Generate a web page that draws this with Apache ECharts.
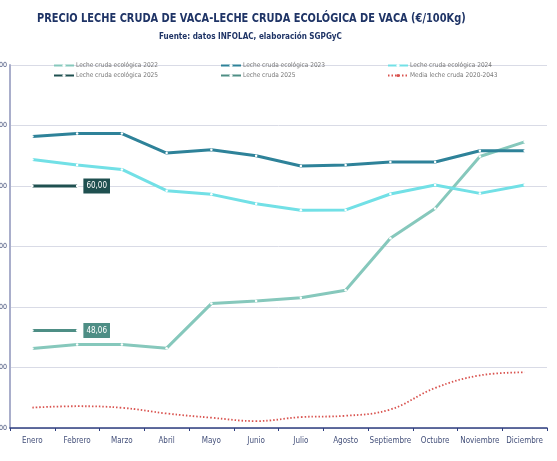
<!DOCTYPE html>
<html>
<head>
<meta charset="utf-8">
<script src="https://cdn.jsdelivr.net/npm/echarts@6/dist/echarts.min.js"></script>
<style>
  html, body { margin: 0; padding: 0; background: #fff; }
  #chart { width: 557px; height: 461px; }
</style>
</head>
<body>
<div id="chart"></div>
<script>
var FONT = '"Liberation Sans Narrow", "DejaVu Sans Condensed", "Liberation Sans", sans-serif';

var meses = ["Enero", "Febrero", "Marzo", "Abril", "Mayo", "Junio", "Julio", "Agosto", "Septiembre", "Octubre", "Noviembre", "Diciembre"];

var eco2022 = [46.57, 46.90, 46.90, 46.60, 50.28, 50.49, 50.76, 51.38, 55.68, 58.15, 62.44, 63.65];
var eco2023 = [64.09, 64.33, 64.33, 62.72, 62.99, 62.50, 61.65, 61.73, 61.98, 61.98, 62.91, 62.91];
var eco2024 = [62.19, 61.73, 61.37, 59.61, 59.31, 58.54, 57.99, 58.02, 59.34, 60.08, 59.39, 60.08];
var eco2025 = [60.00, 60.00];
var cruda2025 = [48.06, 48.06];
var media = [41.69, 41.80, 41.67, 41.20, 40.85, 40.57, 40.90, 41.01, 41.53, 43.31, 44.35, 44.60];

function fmt(v) { return v.toFixed(2).replace(".", ","); }

var chart = echarts.init(document.getElementById("chart"));

function lineSerie(name, data, color) {
  return {
    name: name,
    type: "line",
    data: data,
    symbol: "circle",
    symbolSize: 2.5,
    itemStyle: { color: "#fff", borderWidth: 0 },
    lineStyle: { color: color, width: 3 },
    emphasis: { disabled: true },
    z: 3
  };
}

// la etiqueta sólo va en el último punto (Febrero)
function withLabel(data, bg) {
  return data.map(function (v, i) {
    if (i !== data.length - 1) return v;
    return {
      value: v,
      label: {
        show: true,
        position: "right",
        distance: 5,
        formatter: function (p) { return fmt(p.value); },
        color: "#fff",
        fontFamily: FONT,
        fontSize: 8,
        backgroundColor: bg,
        padding: [4, 3, 3, 3]
      }
    };
  });
}

var legendBase = {
  orient: "vertical",
  top: 57,
  itemWidth: 20,
  itemHeight: 4,
  itemGap: 3,
  textStyle: { fontFamily: FONT, fontSize: 6.5, color: "#777", padding: [0, 0, 0, -3] }
};

var option = {
  animation: false,
  textStyle: { fontFamily: FONT },
  graphic: [
    {
      type: "text", x: 37, y: 12, scaleX: 0.84,
      style: {
        text: "PRECIO LECHE CRUDA DE VACA-LECHE CRUDA ECOLÓGICA DE VACA (€/100Kg)",
        fontFamily: FONT, fontSize: 13, fontWeight: "bold", fill: "#1F3466"
      }
    },
    {
      type: "text", x: 159, y: 32, scaleX: 0.85,
      style: {
        text: "Fuente: datos INFOLAC, elaboración SGPGyC",
        fontFamily: FONT, fontSize: 9.5, fontWeight: "bold", fill: "#1F3466"
      }
    }
  ],
  legend: [
    Object.assign({}, legendBase, { left: 48, data: ["Leche cruda ecológica 2022", "Leche cruda ecológica 2025"] }),
    Object.assign({}, legendBase, { left: 215, data: ["Leche cruda ecológica 2023", "Leche cruda 2025"] }),
    Object.assign({}, legendBase, { left: 382, data: ["Leche cruda ecológica 2024", "Media leche cruda 2020-2043"] })
  ],
  grid: { left: 10, right: 10, top: 65, bottom: 33, containLabel: false, outerBoundsMode: "none" },
  xAxis: {
    type: "category",
    data: meses,
    boundaryGap: true,
    axisLine: { lineStyle: { color: "#2F3F80", width: 1.5 } },
    axisTick: { show: true, length: 3, lineStyle: { color: "#2F3F80" } },
    axisLabel: { color: "#44507A", fontSize: 8, margin: 9, fontFamily: FONT, interval: 0 }
  },
  yAxis: {
    type: "value",
    min: 40,
    max: 70,
    interval: 5,
    axisLine: { show: true, lineStyle: { color: "#A9AECB", width: 2 } },
    axisTick: { show: false },
    axisLabel: { color: "#44507A", fontSize: 7, margin: 3, fontFamily: FONT, formatter: fmt },
    splitLine: { lineStyle: { color: "#D9DBE6", width: 1 } }
  },
  series: [
    lineSerie("Leche cruda ecológica 2022", eco2022, "#86C8BC"),
    lineSerie("Leche cruda ecológica 2023", eco2023, "#2E8299"),
    lineSerie("Leche cruda ecológica 2024", eco2024, "#72E0E6"),
    lineSerie("Leche cruda ecológica 2025", withLabel(eco2025, "#1F5050"), "#1F5050"),
    lineSerie("Leche cruda 2025", withLabel(cruda2025, "#4E8E85"), "#4E8E85"),
    {
      name: "Media leche cruda 2020-2043",
      type: "line",
      data: media,
      smooth: 0.4,
      symbol: "none",
      lineStyle: { color: "#D9534F", width: 1.8, type: [1.5, 2] },
      itemStyle: { color: "#D9534F" },
      emphasis: { disabled: true }
    }
  ]
};

chart.setOption(option);
</script>
</body>
</html>
